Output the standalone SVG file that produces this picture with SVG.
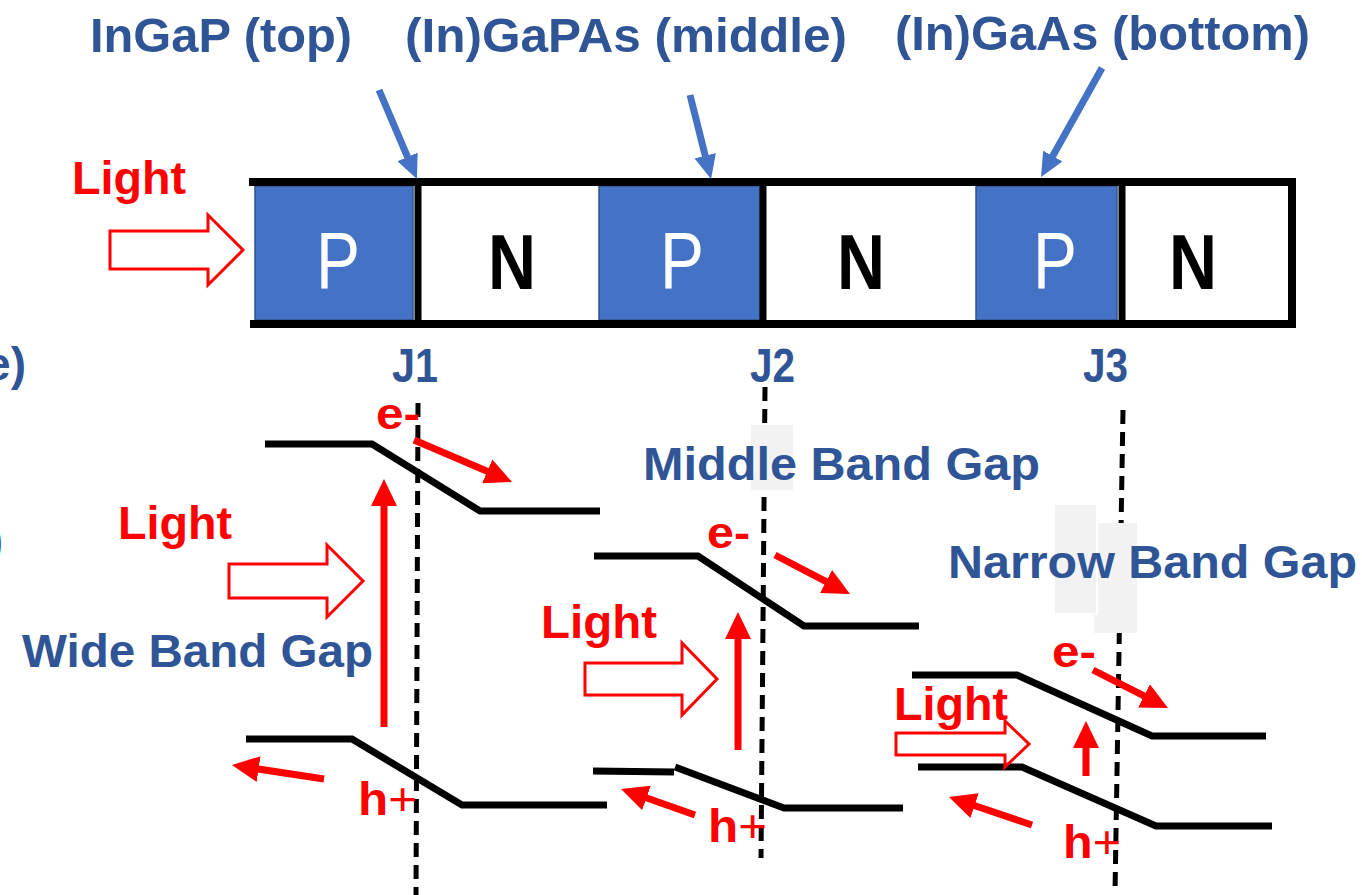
<svg xmlns="http://www.w3.org/2000/svg" width="1362" height="895" viewBox="0 0 1362 895">
  <style>
    .lbl { font-family: "Liberation Sans", Arial, sans-serif; font-weight: bold; fill: #2F5597; }
    .red { font-family: "Liberation Sans", Arial, sans-serif; font-weight: bold; fill: #FF0000; }
    .pcell { fill: #4472C4; stroke: #2F528F; stroke-width: 1.5; }
    .ptxt { font-family: "Liberation Sans", Arial, sans-serif; font-size: 80px; fill: #FFFFFF; text-anchor: middle; }
    .ntxt { font-family: "Liberation Sans", Arial, sans-serif; font-size: 78px; font-weight: bold; fill: #000000; text-anchor: middle; }
    .frame { stroke: #000000; stroke-width: 8; fill: none; }
    .div { stroke: #000000; stroke-width: 7; fill: none; }
    .band { stroke: #000000; stroke-width: 7; fill: none; stroke-linejoin: miter; }
    .junc { stroke: #000000; stroke-width: 5; stroke-dasharray: 14 8; fill: none; }
    .mask { fill: #F2F2F2; }
    .light { fill: #FFFFFF; stroke: #FF0000; stroke-width: 3; stroke-linejoin: miter; }
    .rarr { stroke: #FF0000; stroke-width: 7; fill: none; marker-end: url(#headRed); }
    .barr { stroke: #4472C4; stroke-width: 7; fill: none; marker-end: url(#headBlue); }
  </style>
  <defs>
    <marker id="headRed" markerUnits="userSpaceOnUse" markerWidth="27" markerHeight="26" refX="5" refY="13" orient="auto" viewBox="0 0 27 26">
      <path d="M0,0 L27,13 L0,26 z" fill="#FF0000"/>
    </marker>
    <marker id="headBlue" markerUnits="userSpaceOnUse" markerWidth="24" markerHeight="22" refX="4" refY="11" orient="auto" viewBox="0 0 24 22">
      <path d="M0,0 L24,11 L0,22 z" fill="#4472C4"/>
    </marker>
  </defs>

  <rect width="1362" height="895" fill="#FFFFFF"/>

  <!-- material labels -->
  <g id="label-top-cell">
    <text class="lbl" x="90" y="52" font-size="49" textLength="262" lengthAdjust="spacingAndGlyphs">InGaP (top)</text>
  </g>
  <g id="label-middle-cell">
    <text class="lbl" x="405" y="52" font-size="49" textLength="442" lengthAdjust="spacingAndGlyphs">(In)GaPAs (middle)</text>
  </g>
  <g id="label-bottom-cell">
    <text class="lbl" x="895" y="50" font-size="49" textLength="415" lengthAdjust="spacingAndGlyphs">(In)GaAs (bottom)</text>
  </g>

  <!-- text running off the left margin -->
  <g id="edge-text">
    <text class="lbl" x="26" y="380" font-size="46" text-anchor="end">e)</text>
    <text class="lbl" x="3" y="556" font-size="46" text-anchor="end">)</text>
  </g>

  <!-- incoming light, stack view -->
  <g id="light-stack">
    <text class="red" x="72" y="194" font-size="46" textLength="114" lengthAdjust="spacingAndGlyphs">Light</text>
    <polygon class="light" points="110,231 208,231 208,215 243,250 208,285 208,269 110,269"/>
  </g>

  <!-- P/N layer stack -->
  <g id="stack">
    <rect class="pcell" x="255" y="186" width="158" height="134"/>
    <rect class="pcell" x="599" y="186" width="161" height="134"/>
    <rect class="pcell" x="976" y="186" width="141" height="134"/>
    <line class="frame" x1="249" y1="182" x2="1296" y2="182"/>
    <line class="frame" x1="250" y1="324" x2="1296" y2="324"/>
    <line class="frame" x1="1292" y1="182" x2="1292" y2="324"/>
    <line class="div" x1="418" y1="182" x2="418" y2="324"/>
    <line class="div" x1="763" y1="182" x2="763" y2="324"/>
    <line class="div" x1="1122" y1="182" x2="1122" y2="324"/>
    <text class="ptxt" x="338" y="288" textLength="44" lengthAdjust="spacingAndGlyphs">P</text>
    <text class="ntxt" x="512" y="289" textLength="48" lengthAdjust="spacingAndGlyphs">N</text>
    <text class="ptxt" x="682" y="288" textLength="44" lengthAdjust="spacingAndGlyphs">P</text>
    <text class="ntxt" x="861" y="289" textLength="48" lengthAdjust="spacingAndGlyphs">N</text>
    <text class="ptxt" x="1055" y="288" textLength="44" lengthAdjust="spacingAndGlyphs">P</text>
    <text class="ntxt" x="1193" y="289" textLength="48" lengthAdjust="spacingAndGlyphs">N</text>
  </g>

  <!-- junction names -->
  <g id="junction-labels">
    <text class="lbl" x="392" y="382" font-size="48" textLength="46" lengthAdjust="spacingAndGlyphs">J1</text>
    <text class="lbl" x="750" y="382" font-size="48" textLength="45" lengthAdjust="spacingAndGlyphs">J2</text>
    <text class="lbl" x="1083" y="382" font-size="48" textLength="45" lengthAdjust="spacingAndGlyphs">J3</text>
  </g>

  <!-- band diagram: top cell (wide gap) -->
  <g id="band-wide">
    <polyline class="band" points="265,444 372,444 480,511 600,511"/>
    <polyline class="band" points="246,739 352,739 462,805 607,805"/>
    <line class="junc" x1="418" y1="403" x2="416" y2="895"/>
    <text class="red" x="118" y="539" font-size="46" textLength="114" lengthAdjust="spacingAndGlyphs">Light</text>
    <polygon class="light" points="229,564 327,564 327,545 363,581 327,617 327,598 229,598"/>
    <text class="lbl" x="22" y="667" font-size="46" textLength="351" lengthAdjust="spacingAndGlyphs">Wide Band Gap</text>
    <text class="red" x="376" y="429" font-size="44" textLength="44" lengthAdjust="spacingAndGlyphs">e-</text>
    <text class="red" x="358" y="815" font-size="46" textLength="59" lengthAdjust="spacingAndGlyphs">h<tspan font-weight="normal">+</tspan></text>
  </g>

  <!-- band diagram: middle cell -->
  <g id="band-middle">
    <polyline class="band" points="594,556 698,556 804,626 919,626"/>
    <line class="band" x1="593" y1="771" x2="674" y2="772"/>
    <polyline class="band" points="675,767 784,808 903,808"/>
    <line class="junc" x1="765" y1="387" x2="761" y2="858"/>
    <rect class="mask" x="751" y="425" width="42" height="65"/>
    <text class="lbl" x="643" y="480" font-size="46" textLength="397" lengthAdjust="spacingAndGlyphs">Middle Band Gap</text>
    <text class="red" x="541" y="638" font-size="46" textLength="116" lengthAdjust="spacingAndGlyphs">Light</text>
    <polygon class="light" points="585,663 682,663 682,643 717,679 682,715 682,695 585,695"/>
    <text class="red" x="707" y="548" font-size="44" textLength="43" lengthAdjust="spacingAndGlyphs">e-</text>
    <text class="red" x="708" y="842" font-size="46" textLength="59" lengthAdjust="spacingAndGlyphs">h<tspan font-weight="normal">+</tspan></text>
  </g>

  <!-- band diagram: bottom cell (narrow gap) -->
  <g id="band-narrow">
    <polyline class="band" points="912,675 1017,675 1152,736 1266,736"/>
    <polyline class="band" points="918,767 1022,767 1156,826 1272,826"/>
    <line class="junc" x1="1123" y1="410" x2="1115" y2="893"/>
    <rect class="mask" x="1094" y="523" width="43" height="110"/>
    <rect class="mask" x="1054" y="504" width="43" height="110" stroke="#FFFFFF" stroke-width="2"/>
    <text class="lbl" x="948" y="578" font-size="46" textLength="409" lengthAdjust="spacingAndGlyphs">Narrow Band Gap</text>
    <text class="red" x="894" y="720" font-size="46" textLength="114" lengthAdjust="spacingAndGlyphs">Light</text>
    <polygon class="light" points="896,733 1005,733 1005,721 1029,744 1005,767 1005,755 896,755"/>
    <text class="red" x="1052" y="667" font-size="44" textLength="44" lengthAdjust="spacingAndGlyphs">e-</text>
    <text class="red" x="1063" y="858" font-size="46" textLength="58" lengthAdjust="spacingAndGlyphs">h<tspan font-weight="normal">+</tspan></text>
  </g>

  <!-- connectors: pointer arrows and carrier arrows -->
  <g id="connectors">
    <line class="barr" x1="379" y1="90" x2="409.1" y2="160.6"/>
    <line class="barr" x1="690" y1="95" x2="706.2" y2="159.6"/>
    <line class="barr" x1="1102" y1="68" x2="1050.8" y2="159.5"/>

    <line class="rarr" x1="384" y1="727" x2="384" y2="501"/>
    <line class="rarr" x1="738" y1="750" x2="738" y2="634"/>
    <line class="rarr" x1="1086" y1="776" x2="1086" y2="743"/>

    <line class="rarr" x1="414" y1="440" x2="491.8" y2="473.3"/>
    <line class="rarr" x1="775" y1="555" x2="830.5" y2="583.8"/>
    <line class="rarr" x1="1093" y1="670" x2="1148.4" y2="698.1"/>

    <line class="rarr" x1="324" y1="779" x2="253.7" y2="768.3"/>
    <line class="rarr" x1="695" y1="815" x2="641.8" y2="796.3"/>
    <line class="rarr" x1="1032" y1="825" x2="969.8" y2="804.0"/>
  </g>
</svg>
